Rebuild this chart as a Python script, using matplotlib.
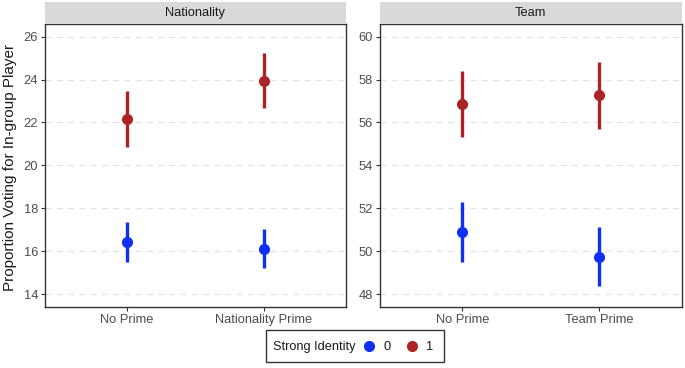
import matplotlib
matplotlib.use("Agg")
import matplotlib.pyplot as plt
import numpy as np
from matplotlib.patches import Rectangle

plt.rcParams['font.family'] = ['Liberation Sans', 'DejaVu Sans']

# data
nat_labels = ["No Prime", "Nationality Prime"]
team_labels = ["No Prime", "Team Prime"]

nat_mean_0 = [16.42, 16.11]
nat_lo_0 = [15.49, 15.21]
nat_hi_0 = [17.38, 17.02]
nat_mean_1 = [22.16, 23.95]
nat_lo_1 = [20.87, 22.67]
nat_hi_1 = [23.47, 25.22]

team_mean_0 = [50.87, 49.73]
team_lo_0 = [49.50, 48.37]
team_hi_0 = [52.28, 51.13]
team_mean_1 = [56.84, 57.27]
team_lo_1 = [55.32, 55.70]
team_hi_1 = [58.40, 58.84]

nat_ticks = [14, 16, 18, 20, 22, 24, 26]
team_ticks = [48, 50, 52, 54, 56, 58, 60]

col0 = "#0F30F0"
col1 = "#AC2326"
txt_grey = "#4D4D4D"

W, H = 685, 368
fig = plt.figure(figsize=(W / 100, H / 100), dpi=100)


def px(x0, y0, x1, y1):
    return [x0 / W, 1 - y1 / H, (x1 - x0) / W, (y1 - y0) / H]


def panel(rect, strip_rect, title, labels, series, ticks, ylim):
    ax = fig.add_axes(px(*rect))
    for mean, lo, hi, c in series:
        x = np.arange(len(mean))
        m = np.array(mean)
        yerr = [m - np.array(lo), np.array(hi) - m]
        ax.errorbar(x, m, yerr=yerr, fmt='o', color=c, ms=7,
                    elinewidth=2.4, capsize=0, zorder=3)
    ax.set_xlim(-0.6, 1.6)
    ax.set_ylim(*ylim)
    ax.set_yticks(ticks)
    ax.set_xticks(range(len(labels)), labels)
    ax.yaxis.grid(True, linestyle=(0, (5, 4)), color="#E3E3E3", lw=0.9)
    ax.set_axisbelow(True)
    ax.tick_params(labelsize=9.3, labelcolor=txt_grey, color="#333333",
                   length=3, width=0.8, pad=2)
    for s in ax.spines.values():
        s.set_color("#333333")
        s.set_linewidth(1.0)
    sax = fig.add_axes(px(*strip_rect))
    sax.set_facecolor("#D9D9D9")
    sax.set_xticks([])
    sax.set_yticks([])
    for s in sax.spines.values():
        s.set_visible(False)
    sax.text(0.5, 0.5, title, ha='center', va='center', fontsize=9.3,
             color="#1A1A1A", transform=sax.transAxes)
    return ax


ax1 = panel((45, 24, 346, 306.7), (45, 2, 346, 24), "Nationality", nat_labels,
            [(nat_mean_0, nat_lo_0, nat_hi_0, col0),
             (nat_mean_1, nat_lo_1, nat_hi_1, col1)],
            nat_ticks, (13.41, 26.59))
ax2 = panel((380, 24, 681.7, 306.7), (380, 2, 681.7, 24), "Team", team_labels,
            [(team_mean_0, team_lo_0, team_hi_0, col0),
             (team_mean_1, team_lo_1, team_hi_1, col1)],
            team_ticks, (47.41, 60.59))

fig.text(10 / W, 1 - 167 / H, "Proportion Voting for In-group Player",
         rotation=90, ha='center', va='center', fontsize=11, color="#1A1A1A")

# legend: framed box with title on the left
fig.add_artist(Rectangle((266 / W, 1 - 362 / H), (444 - 266) / W, 32 / H,
                         transform=fig.transFigure, fill=False,
                         edgecolor="#333333", lw=1.0))
fig.text(273 / W, 1 - 347 / H, "Strong Identity", ha='left', va='center',
         fontsize=9.2, color="#1A1A1A")
leg_handles = [plt.Line2D([], [], ls='none', marker='o', ms=7, color=c)
               for c in (col0, col1)]
fig.legend(leg_handles, ["0", "1"], ncol=2, frameon=False,
           loc='center left', bbox_to_anchor=(350 / W, 1 - 347 / H),
           fontsize=9.3, handlelength=1.2, handletextpad=0.5,
           columnspacing=1.0, labelcolor="#1A1A1A")

fig.savefig("out.png", dpi=100)
